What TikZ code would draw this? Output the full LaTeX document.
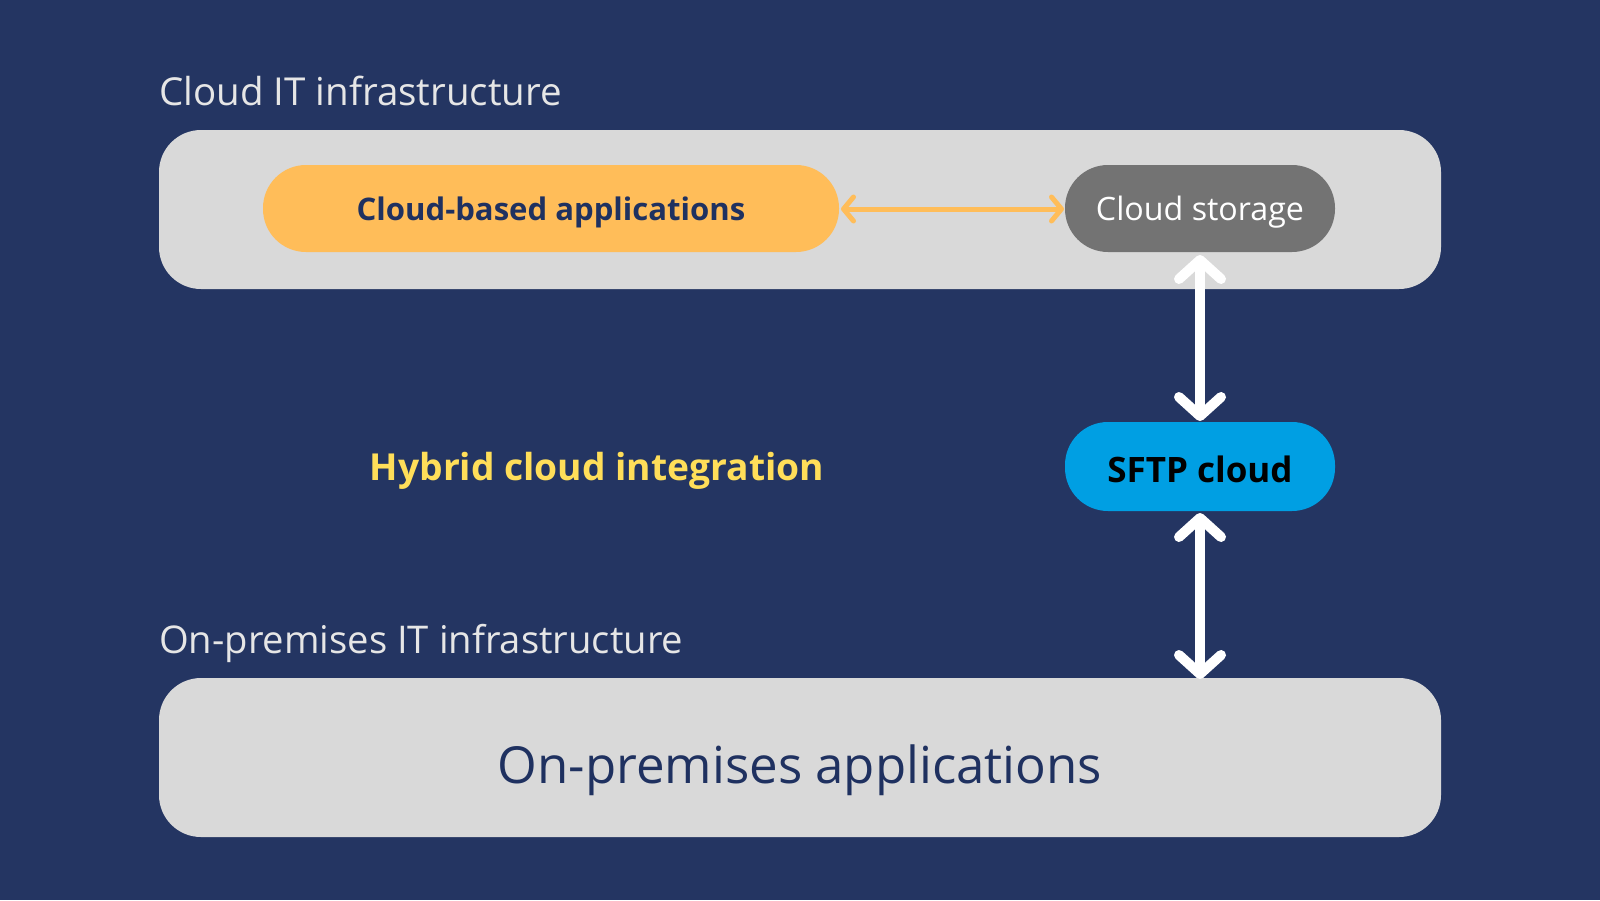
\documentclass[tikz,border=0pt]{standalone}
\usepackage{fontspec}
\setmainfont{Open Sans}
\usetikzlibrary{arrows.meta}
\definecolor{bgnavy}{HTML}{243562}
\definecolor{panelgrey}{HTML}{D9D9D9}
\definecolor{apporange}{HTML}{FFBD59}
\definecolor{storegrey}{HTML}{737373}
\definecolor{sftpblue}{HTML}{009FE3}
\definecolor{textnavy}{HTML}{1F3160}
\definecolor{hyyellow}{HTML}{FFDE59}
\definecolor{labelgrey}{HTML}{E6E6E6}
\begin{document}
\begin{tikzpicture}[x=1pt,y=-1pt,
  panel/.style={fill=panelgrey, draw=none, rounded corners=42pt},
  pill/.style={draw=none, rounded corners=43pt},
  wharrow/.style={draw=white, line width=10pt, {Straight Barb[length=19pt,width=42pt,round]}-{Straight Barb[length=19pt,width=42pt,round]}},
  orarrow/.style={draw=apporange, line width=5pt, {Straight Barb[length=10pt,width=24pt,round]}-{Straight Barb[length=10pt,width=24pt,round]}}
]
\fill[bgnavy] (0,0) rectangle (1600,900);
\useasboundingbox (0,0) rectangle (1600,900);
% panels
\path[panel] (159,130) rectangle (1441,289);
\path[panel] (159,678) rectangle (1441,837);
\node (onprem) at (800,770) {\fontsize{51}{56}\selectfont\color{textnavy}On-premises applications};
% labels
\node[anchor=west, inner sep=0pt] (cloudlbl) at (159,91) {\fontsize{38.5}{42}\selectfont\color{labelgrey}Cloud IT infrastructure};
\node[anchor=west, inner sep=0pt] (premlbl) at (159,643) {\fontsize{38.2}{42}\selectfont\color{labelgrey}On-premises IT infrastructure};
% pills
\path[pill, fill=apporange] (263,165) rectangle (839,252);
\node (apps) at (551,212) {\fontsize{31.1}{36}\selectfont\bfseries\color{textnavy}Cloud-based applications};
\path[pill, fill=storegrey] (1065,165) rectangle (1335,252);
\node (store) at (1200,212) {\fontsize{32.2}{36}\selectfont\color{white}Cloud storage};
\path[pill, fill=sftpblue] (1065,422) rectangle (1335,511);
\node (sftp) at (1200,469) {\fontsize{35}{40}\selectfont\bfseries\color{black}SFTP cloud};
\node (hybrid) at (597,471) {\fontsize{37.2}{42}\selectfont\bfseries\color{hyyellow}Hybrid cloud integration};
% connectors
\coordinate (appsE) at (841,209);
\coordinate (storeW) at (1064,209);
\coordinate (storeS) at (1200,255);
\coordinate (sftpN) at (1200,421);
\coordinate (sftpS) at (1200,513);
\coordinate (premN) at (1200,679);
\draw[orarrow] (appsE) -- (storeW);
\draw[wharrow] (storeS) -- (sftpN);
\draw[wharrow] (sftpS) -- (premN);
\end{tikzpicture}
\end{document}
